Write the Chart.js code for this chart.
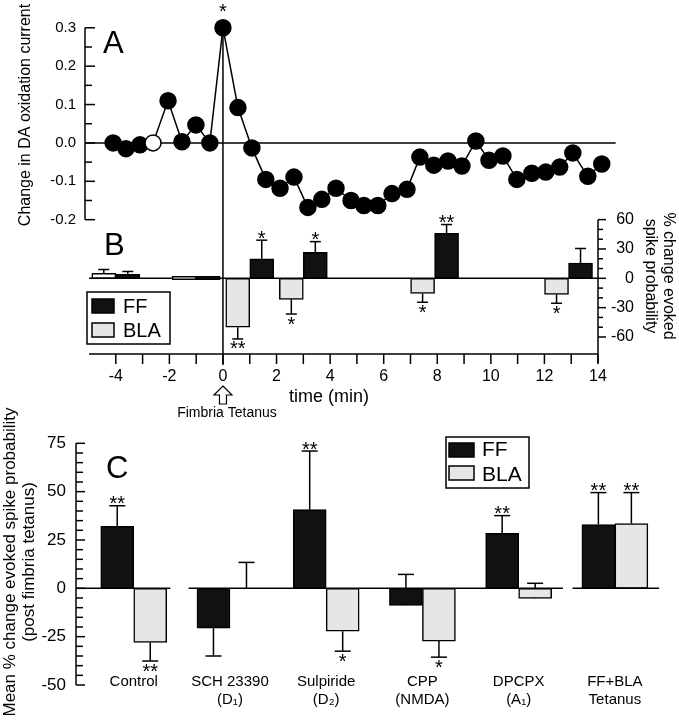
<!DOCTYPE html>
<html>
<head>
<meta charset="utf-8">
<title>DA oxidation current and evoked spike probability</title>
<script src="https://cdn.jsdelivr.net/npm/chart.js@4.4.1/dist/chart.umd.min.js"></script>
<style>
  html, body { margin: 0; padding: 0; background: #fff; }
  #wrap { position: relative; width: 679px; height: 720px; overflow: hidden; background: #fff; }
  canvas { position: absolute; left: 0; }
  #chart-ab { top: -30px; }
  #chart-c { top: 395px; }
</style>
</head>
<body>
<div id="wrap">
  <canvas id="chart-ab" width="679" height="450"></canvas>
  <canvas id="chart-c" width="679" height="325"></canvas>
</div>
<script>
// Panel A: change in DA oxidation current (one reading about every 30 s)
const aTimes = [-4.1, -3.62, -3.1, -2.61, -2.05, -1.53, -1.01, -0.49, 0, 0.56, 1.08, 1.6, 2.13, 2.65, 3.17, 3.69, 4.22, 4.78, 5.26, 5.78, 6.31, 6.87, 7.35, 7.87, 8.4, 8.92, 9.44, 9.93, 10.45, 10.97, 11.53, 12.05, 12.57, 13.06, 13.62, 14.14, 14.66];
const aCurrent = [0.0, -0.015, -0.005, 0.0, 0.11, 0.003, 0.047, 0.0, 0.3, 0.092, -0.013, -0.095, -0.118, -0.089, -0.168, -0.147, -0.118, -0.15, -0.163, -0.163, -0.132, -0.121, -0.037, -0.058, -0.047, -0.06, 0.005, -0.045, -0.034, -0.095, -0.079, -0.076, -0.063, -0.026, -0.087, -0.055, -0.082];
const aOpenPoint = 3;   // the single open circle
const aStarPoint = 8;   // peak, marked *
const aTicks = [-0.2, -0.1, 0, 0.1, 0.2, 0.3];

// Panel B: % change evoked spike probability, BLA / FF pairs
const bTimes = [-4, -1, 1, 3, 7.9, 12.9];
const bBLA = [5, [-1.5, 2], -50, -21.5, -15.5, -16.5];
const bBLATip = [9, null, -62, -36.5, -24.5, -25.5];
const bFF = [4, [-1.5, 2], 20, 26.5, 46, 15.5];
const bFFTip = [7, null, 39, 37.5, 55, 30.5];
const bBLAStars = ['', '', '**', '*', '*', '*'];
const bFFStars = ['', '', '*', '*', '**', ''];
const bTicks = [-60, -30, 0, 30, 60];
const timeTicks = [-4, -2, 0, 2, 4, 6, 8, 10, 12, 14];
const timeAxis = [-5, 14];

// Panel C: mean % change evoked spike probability (post fimbria tetanus)
const cLabels = [['Control'], ['SCH 23390', '(D\u2081)'], ['Sulpiride', '(D\u2082)'], ['CPP', '(NMDA)'], ['DPCPX', '(A\u2081)'], ['FF+BLA', 'Tetanus']];
const cFF = [32, -20.6, 40.7, -8.8, 28.4, 33];
const cFFTip = [42.7, -35, 71, 7.2, 37.6, 49.5];
const cBLA = [-28, 0, -22.2, -27.3, -5.2, 33.5];
const cBLATip = [-37.6, 13.4, -32.5, -35.6, 2.6, 49.5];
const cFFStars = ['**', '', '**', '', '**', '**'];
const cBLAStars = ['**', '', '*', '*', '', '**'];
const cTicks = [-50, -25, 0, 25, 50, 75];

const FAMILY = '"Liberation Sans", Arial, Helvetica, sans-serif';
const FF_COLOR = '#111';
const BLA_COLOR = '#e6e6e6';
const AB_SHIFT = 30;    // chart-ab canvas sits 30px above the page top
const C_TOP = 395;      // chart-c canvas top on the page

Chart.defaults.font.family = FAMILY;
Chart.defaults.color = '#000';

function font(px) { return px + 'px ' + FAMILY; }

function seg(ctx, x1, y1, x2, y2) {
  ctx.beginPath();
  ctx.moveTo(x1, y1);
  ctx.lineTo(x2, y2);
  ctx.stroke();
}

function errBar(ctx, x, from, to, cap) {
  seg(ctx, x, from, x, to);
  seg(ctx, x - cap / 2, to, x + cap / 2, to);
}

function stars(ctx, text, x, tipPx, above) {
  if (!text) return;
  ctx.font = font(20);
  ctx.textAlign = 'center';
  ctx.textBaseline = 'alphabetic';
  ctx.fillText(text, x, above ? tipPx + 4.5 : tipPx + 16.5);
}

function rotText(ctx, text, x, y, angle, px) {
  ctx.save();
  ctx.translate(x, y);
  ctx.rotate(angle);
  ctx.font = font(px);
  ctx.textAlign = 'center';
  ctx.textBaseline = 'alphabetic';
  ctx.fillText(text, 0, 0);
  ctx.restore();
}

function legend(ctx, box, swatches, labels, textX, baselines, px) {
  ctx.lineWidth = 1.5;
  ctx.strokeStyle = '#000';
  ctx.strokeRect(box[0], box[1], box[2], box[3]);
  swatches.forEach((s, i) => {
    ctx.fillStyle = i === 0 ? FF_COLOR : BLA_COLOR;
    ctx.fillRect(s[0], s[1], s[2], s[3]);
    ctx.strokeRect(s[0], s[1], s[2], s[3]);
  });
  ctx.fillStyle = '#000';
  ctx.font = font(px);
  ctx.textAlign = 'left';
  ctx.textBaseline = 'alphabetic';
  labels.forEach((l, i) => ctx.fillText(l, textX, baselines[i]));
}

function barErrors(ctx, chart, scale, dsIndex, tips, starTexts, values, cap, drawStars) {
  chart.getDatasetMeta(dsIndex).data.forEach((bar, j) => {
    if (tips[j] === null) return;
    const tipPx = scale.getPixelForValue(tips[j]);
    const base = Array.isArray(values[j]) ? values[j][1] : values[j];
    if (drawStars) {
      stars(ctx, starTexts[j], bar.x, tipPx, tips[j] > base);
    } else {
      errBar(ctx, bar.x, scale.getPixelForValue(base), tipPx, cap);
    }
  });
}

// ---------- panels A + B ----------
const abDecor = {
  id: 'abDecor',
  beforeDatasetsDraw(chart) {
    const { ctx, chartArea: area, scales: { x, yA, yB } } = chart;
    ctx.save();
    ctx.strokeStyle = '#000';
    ctx.lineWidth = 1.5;
    const a0 = yA.getPixelForValue(0);
    seg(ctx, area.left, a0, x.getPixelForValue(aTimes[aTimes.length - 1]), a0);
    const b0 = yB.getPixelForValue(0);
    seg(ctx, x.getPixelForValue(timeAxis[0]), b0, x.getPixelForValue(timeAxis[1]), b0);
    // fimbria tetanus at t = 0
    const t0 = x.getPixelForValue(0);
    seg(ctx, t0, yA.getPixelForValue(aCurrent[aStarPoint]), t0, area.bottom + 11);
    barErrors(ctx, chart, yB, 1, bBLATip, bBLAStars, bBLA, 11, false);
    barErrors(ctx, chart, yB, 2, bFFTip, bFFStars, bFF, 11, false);
    ctx.restore();
  },
  afterDatasetsDraw(chart) {
    const { ctx, chartArea: area, scales: { x, yA, yB } } = chart;
    ctx.save();
    ctx.strokeStyle = '#000';
    ctx.fillStyle = '#000';
    ctx.lineWidth = 1.5;

    // A axis, ticks pointing inward
    seg(ctx, area.left, yA.getPixelForValue(aTicks[0]), area.left, yA.getPixelForValue(aTicks[aTicks.length - 1]));
    for (let k = -4; k <= 6; k++) {
      const py = yA.getPixelForValue(k * 0.05);
      seg(ctx, area.left, py, area.left + (k % 2 === 0 ? 10 : 7), py);
    }
    // time axis, one tick a minute
    seg(ctx, x.getPixelForValue(timeAxis[0]), area.bottom, x.getPixelForValue(timeAxis[1]), area.bottom);
    for (let t = -4; t <= timeAxis[1]; t++) {
      const px = x.getPixelForValue(t);
      seg(ctx, px, area.bottom, px, area.bottom + 10);
    }
    // B axis on the right
    seg(ctx, area.right, yB.getPixelForValue(bTicks[bTicks.length - 1]), area.right, area.bottom + 9);
    for (let v = -60; v <= 60; v += 10) {
      const py = yB.getPixelForValue(v);
      seg(ctx, area.right, py, area.right + (v % 30 === 0 ? 8 : 5), py);
    }

    // significance marks
    const peak = chart.getDatasetMeta(0).data[aStarPoint];
    stars(ctx, '*', peak.x, peak.y - 14, true);
    barErrors(ctx, chart, yB, 1, bBLATip, bBLAStars, bBLA, 11, true);
    barErrors(ctx, chart, yB, 2, bFFTip, bFFStars, bFF, 11, true);

    // text and legend in page coordinates
    ctx.translate(0, AB_SHIFT);
    ctx.font = font(31);
    ctx.textAlign = 'left';
    ctx.textBaseline = 'alphabetic';
    ctx.fillText('A', 103, 53);
    ctx.fillText('B', 104, 255);
    rotText(ctx, 'Change in DA oxidation current', 30, 115, -Math.PI / 2, 16);
    rotText(ctx, '% change evoked', 664, 276, Math.PI / 2, 16);
    rotText(ctx, 'spike probability', 646, 276, Math.PI / 2, 16);
    ctx.font = font(18);
    ctx.textAlign = 'center';
    ctx.fillText('time (min)', 329, 402);
    ctx.font = font(14);
    ctx.fillText('Fimbria Tetanus', 227, 417);

    // open arrow under t = 0
    const ax = x.getPixelForValue(0);
    ctx.beginPath();
    ctx.moveTo(ax, 386);
    ctx.lineTo(ax + 9, 395);
    ctx.lineTo(ax + 3.5, 395);
    ctx.lineTo(ax + 3.5, 404);
    ctx.lineTo(ax - 3.5, 404);
    ctx.lineTo(ax - 3.5, 395);
    ctx.lineTo(ax - 9, 395);
    ctx.closePath();
    ctx.fillStyle = '#fff';
    ctx.fill();
    ctx.lineWidth = 1.2;
    ctx.stroke();

    const labels = [chart.data.datasets[2].label, chart.data.datasets[1].label];
    legend(ctx, [87, 292, 83, 52], [[92, 299, 22, 14], [92, 323, 22, 14]], labels, 123, [313, 337], 20);
    ctx.restore();
  }
};

new Chart(document.getElementById('chart-ab'), {
  type: 'bar',
  data: {
    datasets: [
      {
        type: 'line',
        label: 'DA',
        data: aTimes.map((t, i) => ({ x: t, y: aCurrent[i] })),
        yAxisID: 'yA',
        borderColor: '#000',
        borderWidth: 1.5,
        pointRadius: 8,
        pointBorderWidth: 1.5,
        pointBorderColor: '#000',
        pointBackgroundColor: ctx => ctx.dataIndex === aOpenPoint ? '#fff' : '#000',
        clip: false
      },
      {
        label: 'BLA',
        data: bTimes.map((t, i) => ({ x: t, y: bBLA[i] })),
        yAxisID: 'yB',
        backgroundColor: ctx => bTimes[ctx.dataIndex] < 0 ? '#fff' : BLA_COLOR,
        borderColor: '#000',
        borderWidth: 1.5,
        borderSkipped: false,
        barThickness: 24
      },
      {
        label: 'FF',
        data: bTimes.map((t, i) => ({ x: t, y: bFF[i] })),
        yAxisID: 'yB',
        backgroundColor: FF_COLOR,
        borderColor: '#000',
        borderWidth: 1.5,
        borderSkipped: false,
        barThickness: 24
      }
    ]
  },
  options: {
    responsive: false,
    animation: false,
    devicePixelRatio: 1,
    layout: { padding: { top: 38.6, right: 45, left: 0, bottom: 0 } },
    plugins: { legend: { display: false }, tooltip: { enabled: false } },
    scales: {
      x: {
        type: 'linear',
        min: -5.15,
        max: timeAxis[1],
        offset: false,
        grid: { display: false, drawTicks: false },
        border: { display: false },
        afterBuildTicks: s => { s.ticks = timeTicks.map(v => ({ value: v })); },
        afterFit: s => { s.height = 66; },
        ticks: { autoSkip: false, maxRotation: 0, padding: 13.4, font: { size: 16 }, callback: v => String(v) }
      },
      yA: {
        position: 'left',
        min: -0.55,
        max: 0.35,
        grid: { display: false, drawTicks: false },
        border: { display: false },
        afterBuildTicks: s => { s.ticks = aTicks.map(v => ({ value: v })); },
        afterFit: s => { s.width = 85; },
        ticks: { padding: 9, font: { size: 15 }, callback: v => v.toFixed(1) }
      },
      yB: {
        position: 'right',
        min: -77.4,
        max: 275.8,
        grid: { display: false, drawTicks: false },
        border: { display: false },
        afterBuildTicks: s => { s.ticks = bTicks.map(v => ({ value: v })); },
        afterFit: s => { s.width = 36; },
        ticks: { crossAlign: 'far', font: { size: 16 }, callback: v => String(v) }
      }
    }
  },
  plugins: [abDecor]
});

// ---------- panel C ----------
const cDecor = {
  id: 'cDecor',
  beforeDatasetsDraw(chart) {
    const { ctx, scales: { y } } = chart;
    ctx.save();
    ctx.strokeStyle = '#000';
    ctx.lineWidth = 1.5;
    barErrors(ctx, chart, y, 0, cFFTip, cFFStars, cFF, 16, false);
    barErrors(ctx, chart, y, 1, cBLATip, cBLAStars, cBLA, 16, false);
    ctx.restore();
  },
  afterDatasetsDraw(chart) {
    const { ctx, chartArea: area, scales: { x, y } } = chart;
    ctx.save();
    ctx.strokeStyle = '#000';
    ctx.fillStyle = '#000';
    ctx.lineWidth = 1.5;

    // zero line, broken between treatment groups
    const y0 = y.getPixelForValue(0);
    [[x.min, 0.38], [0.57, 4.46], [4.56, 5.46]].forEach(([a, b]) => {
      seg(ctx, x.getPixelForValue(a), y0, x.getPixelForValue(b), y0);
    });
    // y axis with inward ticks every 5
    seg(ctx, area.left, area.top, area.left, area.bottom);
    for (let v = -50; v <= 75; v += 5) {
      const py = y.getPixelForValue(v);
      seg(ctx, area.left, py, area.left + (v % 25 === 0 ? 9 : 7), py);
    }

    barErrors(ctx, chart, y, 0, cFFTip, cFFStars, cFF, 16, true);
    barErrors(ctx, chart, y, 1, cBLATip, cBLAStars, cBLA, 16, true);

    // group names sit low, partly inside the plot area
    ctx.font = font(15);
    ctx.textAlign = 'center';
    ctx.textBaseline = 'alphabetic';
    x.ticks.forEach(t => {
      cLabels[t.value].forEach((line, k) => {
        ctx.fillText(line, x.getPixelForValue(t.value), area.bottom + 1 + k * 18);
      });
    });

    ctx.translate(0, -C_TOP);
    ctx.font = font(31);
    ctx.textAlign = 'left';
    ctx.fillText('C', 106, 478);
    rotText(ctx, 'Mean % change evoked spike probability', 15, 562, -Math.PI / 2, 17);
    rotText(ctx, '(post fimbria tetanus)', 34, 562, -Math.PI / 2, 17);
    const labels = chart.data.datasets.map(d => d.label);
    legend(ctx, [446, 437, 83, 51], [[449, 443, 25, 14], [449, 466, 25, 14]], labels, 482, [456, 481], 21);
    ctx.restore();
  }
};

new Chart(document.getElementById('chart-c'), {
  type: 'bar',
  data: {
    datasets: [
      {
        label: 'FF',
        data: cFF.map((v, i) => ({ x: i, y: v })),
        backgroundColor: FF_COLOR,
        borderColor: '#000',
        borderWidth: 1.5,
        borderSkipped: false,
        barThickness: 33
      },
      {
        label: 'BLA',
        data: cBLA.map((v, i) => ({ x: i, y: v })),
        backgroundColor: BLA_COLOR,
        borderColor: '#000',
        borderWidth: 1.5,
        borderSkipped: false,
        barThickness: 33
      }
    ]
  },
  options: {
    responsive: false,
    animation: false,
    devicePixelRatio: 1,
    layout: { padding: { top: 48.3, right: 16, left: 0, bottom: 0 } },
    plugins: { legend: { display: false }, tooltip: { enabled: false } },
    scales: {
      x: {
        type: 'linear',
        min: -0.6,
        max: 5.5,
        offset: false,
        grid: { display: false, drawTicks: false },
        border: { display: false },
        afterBuildTicks: s => { s.ticks = cLabels.map((c, i) => ({ value: i })); },
        afterFit: s => { s.height = 35; },
        ticks: { display: false }
      },
      y: {
        min: -50,
        max: 75,
        grid: { display: false, drawTicks: false },
        border: { display: false },
        afterBuildTicks: s => { s.ticks = cTicks.map(v => ({ value: v })); },
        afterFit: s => { s.width = 76; },
        ticks: { padding: 10, font: { size: 17 }, callback: v => String(v) }
      }
    }
  },
  plugins: [cDecor]
});
</script>
</body>
</html>
